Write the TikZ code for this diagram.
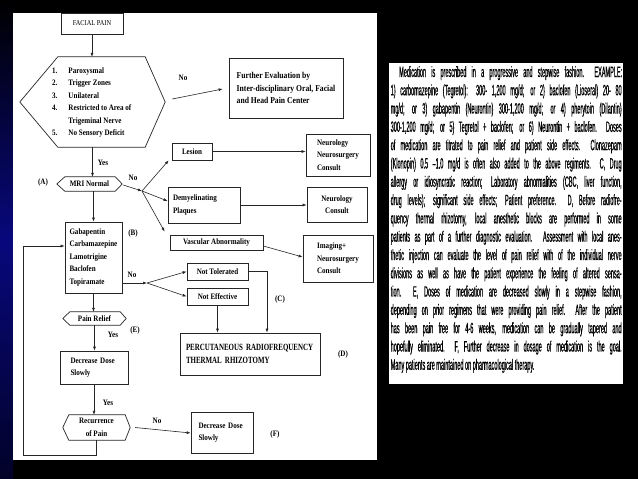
\documentclass[tikz,border=0pt]{standalone}
\usepackage{fontspec}
\setmainfont{Liberation Serif}
\newfontfamily\flowf[FakeStretch=0.85]{Liberation Serif}
\newfontfamily\pctf[FakeStretch=0.73]{Liberation Serif}
\newfontfamily\narrowf[FakeStretch=0.37,FakeBold=0.5]{Liberation Sans}
\usetikzlibrary{arrows.meta}
\newcommand\fcfont{\flowf\bfseries\fontsize{8.3}{12.5}\selectfont}
\newcommand\fcsmallfont{\flowf\fontsize{7.5}{9}\selectfont}
\newcommand\fcbigfont{\flowf\bfseries\fontsize{9}{12.7}\selectfont}
\newcommand\pctfont{\pctf\bfseries\fontsize{9.5}{13}\selectfont}
\newcommand\rtxtfont{\narrowf\fontsize{15}{18.3}\selectfont}
\newcommand\jline[1]{\makebox[231pt][s]{#1}}
\newcommand\hexo[3]{\draw[flowline] (#1.west) -- ([xshift=#2]#1.north west) -- ([xshift=-#3]#1.north east) -- (#1.east) -- ([xshift=-#3]#1.south east) -- ([xshift=#2]#1.south west) -- cycle;}
\tikzset{
  flowline/.style={draw=black!85, line width=0.7pt},
  flownode/.style={flowline, rectangle, inner sep=0pt, font=\fcfont},
  hexnode/.style={rectangle, inner sep=0pt, font=\fcfont},
  flowlbl/.style={font=\fcfont, inner sep=0pt},
  flowarr/.style={draw=black!85, line width=0.6pt, -{Latex[length=4pt,width=3pt]}},
  rtline/.style={anchor=base west, inner sep=0pt, font=\rtxtfont},
}
\begin{document}
\begin{tikzpicture}[x=1pt,y=-1pt]
\useasboundingbox (0,0) rectangle (638,479);
\fill[black] (0,0) rectangle (638,479);
\shade[top color=black, bottom color={rgb,255:red,2;green,2;blue,40}, middle color={rgb,255:red,8;green,8;blue,125}] (0,0) rectangle (13,479);
\fill[white] (13,13) rectangle (377,460);
\fill[white] (389,63) rectangle (623,384);

% ---------- flowchart ----------
\node[flownode, minimum width=62pt, minimum height=21pt, font=\fcsmallfont] (facial) at (92,23.5) {FACIAL PAIN};

\node[hexnode, minimum width=145pt, minimum height=90pt] (hexA) at (92.5,102) {};
\hexo{hexA}{38pt}{20pt}
\node[flowlbl, anchor=west] (crit) at (52,102) {\begin{tabular}{@{}l@{\hspace{11pt}}l@{}}1.&Paroxysmal\\2.&Trigger Zones\\3.&Unilateral\\4.&Restricted to Area of\\&Trigeminal Nerve\\5.&No Sensory Deficit\end{tabular}};

\node[flownode, minimum width=114pt, minimum height=60pt, align=left, font=\fcbigfont] (further) at (286,88) {Further Evaluation by\\Inter-disciplinary Oral, Facial\\and Head Pain Center};

\draw[flowarr] (facial.south) -- (facial.south |- hexA.north);
\draw[flowarr] ([xshift=7pt,yshift=3pt]hexA.east) -- ([xshift=-6pt,yshift=-1pt]further.west);
\node[flowlbl] (no1) at (183,78) {No};

\node[hexnode, minimum width=65pt, minimum height=14pt] (mri) at (89.5,184) {MRI Normal};
\hexo{mri}{8pt}{7pt}
\draw[flowarr] (hexA.south) -- (hexA.south |- mri.north);
\node[flowlbl] (yes1) at (103,163) {Yes};
\node[flowlbl] (labA) at (43,183) {(A)};
\coordinate (b1) at (142,191);
\draw[flowarr] ([xshift=1pt,yshift=-1pt]mri.east) -- (b1);
\node[flowlbl] (no2) at (133,178) {No};

\node[flownode, minimum width=40pt, minimum height=17pt] (lesion) at (192,151.5) {Lesion};
\draw[flowarr] (b1) -- ([xshift=-3pt]lesion.south west);
\node[flownode, minimum width=64pt, minimum height=42pt, align=left] (neuro1) at (338,155) {Neurology\\Neurosurgery\\Consult};
\draw[flowarr] (lesion.east) -- (lesion.east -| neuro1.west);

\node[flownode, minimum width=72pt, minimum height=36pt, align=left, text width=62pt] (demy) at (204,205) {Demyelinating\\Plaques};
\draw[flowarr] (b1) -- ([yshift=4pt]demy.west);
\node[flownode, minimum width=60pt, minimum height=35pt, align=center] (neuro2) at (337,204.5) {Neurology\\Consult};
\draw[flowarr] (demy.east) -- (demy.east -| neuro2.west);

\node[flownode, minimum width=93pt, minimum height=15pt] (vasc) at (216.5,242.5) {Vascular Abnormality};
\draw[flowarr] (b1) -- ([xshift=-5pt,yshift=3pt]vasc.north west);
\node[flownode, minimum width=70pt, minimum height=47pt, align=left] (imaging) at (338,258.5) {Imaging+\\Neurosurgery\\Consult};
\draw[flowarr] ([yshift=-3.5pt]vasc.east) -- ([yshift=1.5pt]imaging.west);

\node[flownode, minimum width=57pt, minimum height=71pt, align=left, text width=48pt] (med) at (93.5,257.5) {Gabapentin\\Carbamazepine\\Lamotrigine\\Baclofen\\Topiramate};
\draw[flowarr] (med.north |- mri.south) -- (med.north);
\node[flowlbl] (labB) at (133,234) {(B)};

\coordinate (b2) at (147,283);
\draw[flowarr] (med.east |- b2) -- (b2);
\node[flowlbl] (no3) at (132,275) {No};
\node[flownode, minimum width=61pt, minimum height=17pt] (nottol) at (217.5,271.5) {Not Tolerated};
\node[flownode, minimum width=61pt, minimum height=17pt] (noteff) at (217.5,296.5) {Not Effective};
\draw[flowarr] (b2) -- (nottol.west);
\draw[flowarr] (b2) -- (noteff.west);

\node[flownode, minimum width=140pt, minimum height=42pt, align=left, text width=128pt, font=\pctfont] (percut) at (250,354) {PERCUTANEOUS RADIOFREQUENCY\\THERMAL RHIZOTOMY};
\coordinate (c1) at (267,300);
\draw[flowarr] (nottol.east) -| (c1 |- percut.north);
\draw[flowarr] (noteff.south) -- (noteff.south |- percut.north);
\node[flowlbl] (labC) at (280,300) {(C)};
\node[flowlbl] (labD) at (343,355) {(D)};

\node[hexnode, minimum width=63pt, minimum height=13pt] (pain) at (94.5,318.5) {Pain Relief};
\hexo{pain}{7pt}{6pt}
\draw[flowarr] (med.south) -- (med.south |- pain.north);
\node[flowlbl] (labE) at (135,331) {(E)};
\node[flowlbl] (yes2) at (113,335) {Yes};

\node[flownode, minimum width=68pt, minimum height=33pt, align=left, text width=47pt] (dec1) at (94,367.5) {Decrease Dose\\Slowly};
\draw[flowarr] (pain.south) -- (pain.south |- dec1.north);

\node[hexnode, minimum width=67pt, minimum height=25pt, align=center] (recur) at (96.5,427.5) {Recurrence\\of Pain};
\hexo{recur}{6pt}{5pt}
\draw[flowarr] (dec1.south) -- (dec1.south |- recur.north);
\node[flowlbl] (yes3) at (108,403) {Yes};

\node[flownode, minimum width=62pt, minimum height=41pt, align=left, text width=47pt] (dec2) at (222,432.5) {Decrease Dose\\Slowly};
\draw[flowarr] ([xshift=5pt]recur.east) -- ([yshift=-0.5pt]dec2.west);
\node[flowlbl] (no4) at (157,421) {No};
\node[flowlbl] (labF) at (275,435) {(F)};

\coordinate (fbc) at (23,455);
\draw[flowarr] (recur.south) |- (fbc) |- ([yshift=11.5pt]med.west);

% ---------- right text panel ----------
\node[rtline] (t1) at (399,77) {\makebox[223pt][s]{Medication is prescribed in a progressive and stepwise fashion.\ \ EXAMPLE:}};
\node[rtline] (t2) at (390.5,95.3) {\jline{1) carbomazepine (Tegretol): 300- 1,200 mg/d; or 2) baclofen (Lioseral) 20- 80}};
\node[rtline] (t3) at (390.5,113.6) {\jline{mg/d; or 3) gabapentin (Neurontin) 300-1,200 mg/d; or 4) pherytoin (Dilantin)}};
\node[rtline] (t4) at (390.5,131.9) {\jline{300-1,200 mg/d; or 5) Tegretol + baclofen; or 6) Neurontin + baclofen.\ \ Doses}};
\node[rtline] (t5) at (390.5,150.2) {\jline{of medication are titrated to pain relief and patient side effects.\ \ Clonazepam}};
\node[rtline] (t6) at (390.5,168.5) {\jline{(Klonopin) 0.5 –1.0 mg/d is often also added to the above regiments.\ \ C, Drug}};
\node[rtline] (t7) at (390.5,186.8) {\jline{allergy or idiosyncratic reaction; Laboratory abnormalities (CBC, liver function,}};
\node[rtline] (t8) at (390.5,205.1) {\jline{drug levels); significant side effects; Patient preference.\ \ D, Before radiofre-}};
\node[rtline] (t9) at (390.5,223.4) {\jline{quency thermal rhizotomy, local anesthetic blocks are performed in some}};
\node[rtline] (t10) at (390.5,241.7) {\jline{patients as part of a further diagnostic evaluation. Assessment with local anes-}};
\node[rtline] (t11) at (390.5,260) {\jline{thetic injection can evaluate the level of pain relief with of the individual nerve}};
\node[rtline] (t12) at (390.5,278.3) {\jline{divisions as well as have the patient experience the feeling of altered sensa-}};
\node[rtline] (t13) at (390.5,296.6) {\jline{tion.\ \ E, Doses of medication are decreased slowly in a stepwise fashion,}};
\node[rtline] (t14) at (390.5,314.9) {\jline{depending on prior regimens that were providing pain relief.\ \ After the patient}};
\node[rtline] (t15) at (390.5,333.2) {\jline{has been pain free for 4-6 weeks, medication can be gradually tapered and}};
\node[rtline] (t16) at (390.5,351.5) {\jline{hopefully eliminated.\ \ F, Further decrease in dosage of medication is the goal.}};
\node[rtline] (t17) at (390.5,369.8) {Many patients are maintained on pharmacological therapy.};
\end{tikzpicture}
\end{document}
